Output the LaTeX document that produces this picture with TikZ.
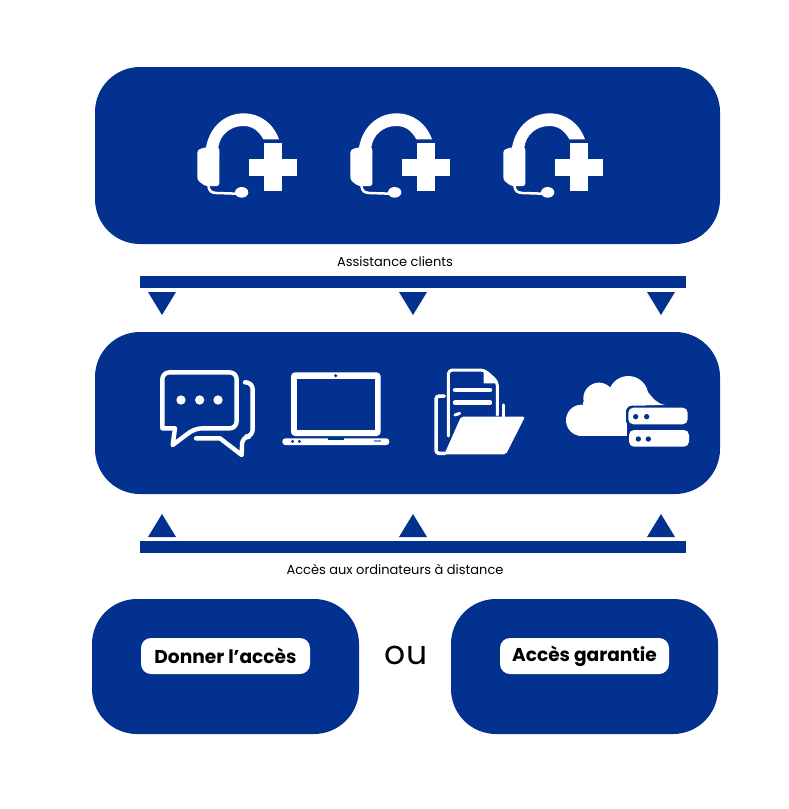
\documentclass[tikz,border=0pt]{standalone}
\usepackage{fontspec}
\setmainfont{Poppins}
\definecolor{navy}{HTML}{03318F}
\tikzset{
  panel/.style={fill=navy,rounded corners=45pt,inner sep=0pt},
  pill/.style={fill=white,rounded corners=10pt,inner sep=0pt,minimum width=169pt,minimum height=36pt,font=\bfseries\fontsize{18.6}{20}\selectfont},
  caption/.style={inner sep=0pt,font=\fontsize{13}{16}\selectfont},
  iconline/.style={draw=white,line width=4.4pt,line join=round,line cap=round}
}
\begin{document}
\begin{tikzpicture}[x=1pt,y=-1pt]
   \useasboundingbox (0,0) rectangle (788,809);
   % panels
   \node[panel,minimum width=625pt,minimum height=177pt] (support) at (407.5,155.5) {};
   \node[panel,minimum width=625pt,minimum height=162pt] (tools) at (407.5,413) {};
   \node[panel,minimum width=267pt,minimum height=135pt] (give) at (225.5,666.5) {};
   \node[panel,minimum width=267pt,minimum height=135pt] (granted) at (584.5,666.5) {};
   % bars and triangles
   \fill[navy] (140,276) rectangle (686,288);
   \fill[navy] (140,541) rectangle (686,553);
   \foreach \x in {162,413,661} {
    \fill[navy] (\x-14,292) -- (\x+14,292) -- (\x,315) -- cycle;
    \fill[navy] (\x-14,537) -- (\x+14,537) -- (\x,514) -- cycle;
   }
   % labels
   \node[caption] (supportlabel) at (395,261.5) {Assistance clients};
   \node[caption] (accesslabel) at (395,569) {Accès aux ordinateurs à distance};
   \node[pill] (givelabel) at (225.5,656) {Donner l’accès};
   \node[pill] (grantedlabel) at (584.5,656) {Accès garantie};
   \node[inner sep=0pt,font=\fontsize{33}{36}\selectfont] (orlabel) at (406,655) {ou};
   % headsets
   \foreach \dx in {0,153,306} {
    \begin{scope}[shift={(180+\dx,100)},scale=1/3]
     \fill[white] (75,160) -- (78,142) .. controls (90,75) and (140,40) .. (190,40)
       .. controls (240,40) and (280,70) .. (297,118) -- (250,118)
       .. controls (235,90) and (215,78) .. (190,78)
       .. controls (150,78) and (120,105) .. (115,142) -- (118,160) -- cycle;
     \fill[white,rounded corners=2.5pt] (75,142) -- (118,142) -- (118,258) -- (75,258) -- (52,240) -- (52,150) -- cycle;
     \draw[white,line width=2.5pt] (85,258) .. controls (88,275) and (95,278) .. (110,279) -- (170,281);
     \fill[white] (185,277) ellipse (20 and 16);
     \fill[white] (253,130) rectangle (307,272);
     \fill[white] (208,176) rectangle (350,228);
    \end{scope}
   }
   % chat
   \begin{scope}[shift={(150,360)},scale=1/3]
    \draw[iconline,rounded corners=7pt] (75,205) [sharp corners] -- (37,205) [rounded corners=7pt] -- (37,37) -- (260,37) -- (260,205) -- (135,205) [sharp corners] -- (68,255) -- (75,205);
    \draw[iconline,rounded corners=7pt] (285,67) -- (308,67) -- (308,230) -- (277,230) [sharp corners] -- (275,285) -- (210,235) -- (138,235);
    \foreach \x in {93,149,204}
     \fill[white] (\x,120) circle (14);
   \end{scope}
   % laptop
   \begin{scope}[shift={(150,360)},scale=1/3]
    \fill[white,rounded corners=4pt] (423,228) -- (423,37) -- (692,37) -- (692,228) -- cycle;
    \fill[navy] (441,57) rectangle (675,210);
    \fill[navy] (557,47) circle (5);
    \fill[white,rounded corners=3pt] (397,235) -- (718,235) -- (718,255) -- (397,255) -- cycle;
    \fill[navy] (533,235) rectangle (583,240);
    \fill[navy] (428,244) circle (5);
    \fill[navy] (448,244) circle (5);
    \fill[navy!50] (672,241) rectangle (692,247);
   \end{scope}
   % folder
   \begin{scope}[shift={(425,360)},scale=1/3]
    \draw[iconline,line width=3pt,rounded corners=4pt] (70,228) -- (70,30) -- (178,30) -- (217,65) -- (217,165);
    \fill[white] (176,32) -- (176,70) -- (215,70) -- cycle;
    \draw[iconline] (90,90) -- (195,90);
    \draw[iconline] (90,128) -- (195,128);
    \draw[iconline,line width=3pt] (90,165) -- (104,160);
    \draw[iconline,line width=3.5pt,rounded corners=3pt] (58,108) -- (33,108) -- (33,280) -- (60,280);
    \draw[iconline,line width=3.5pt] (235,135) -- (235,172);
    \fill[white,rounded corners=2pt] (108,170) -- (300,170) -- (243,283) -- (58,283) -- cycle;
   \end{scope}
   % cloud
   \begin{scope}[shift={(425,360)},scale=1/3]
    \fill[white] (470,181) circle (47);
    \fill[white] (522,115) circle (47);
    \fill[white] (610,108) circle (60);
    \fill[white] (475,125) rectangle (605,228);
    \fill[white] (620,60) .. controls (670,70) and (670,125) .. (720,135) -- (600,138) -- cycle;
    \fill[navy,rounded corners=6pt] (603,137) rectangle (795,199);
    \fill[white,rounded corners=5pt] (610,143) rectangle (788,193);
    \fill[white,rounded corners=5pt] (612,210) rectangle (792,260);
    \foreach \x in {632,665}
     \fill[navy] (\x,170) circle (8);
    \foreach \x in {640,670}
     \fill[navy] (\x,237) circle (8);
   \end{scope}
  \end{tikzpicture}
\end{document}
